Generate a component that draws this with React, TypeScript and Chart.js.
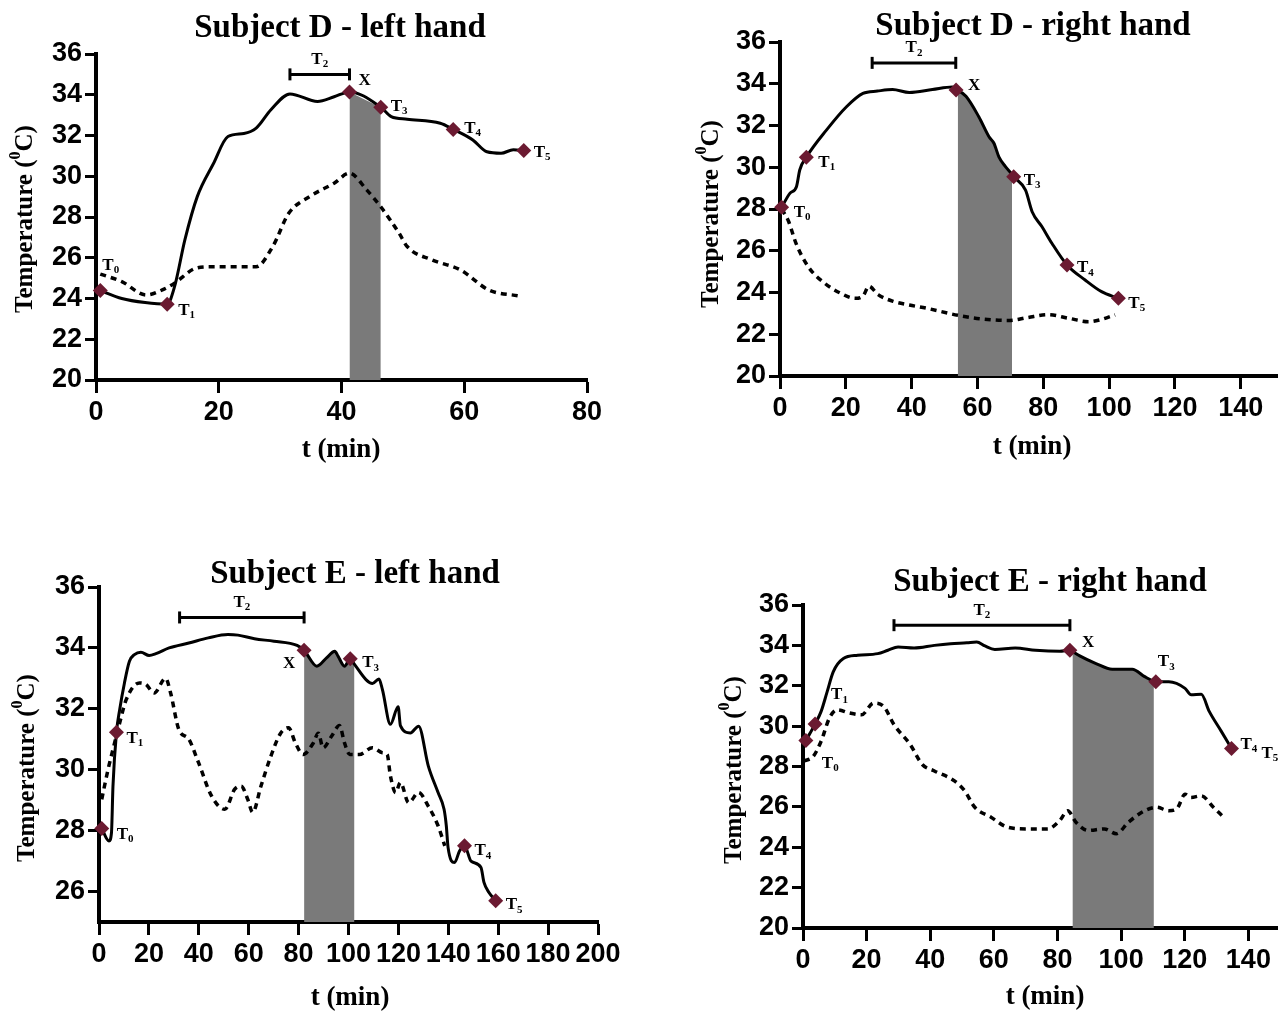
import React, { useEffect, useRef } from 'react';
import { Chart, registerables } from 'chart.js';

Chart.register(...registerables);

const SERIF = '"Liberation Serif", "Times New Roman", serif';
const SANS = '"Liberation Sans", Arial, sans-serif';
const MAROON = '#6b1a31';
const SHADE = '#7a7a7a';
const T2_LEVEL = 35;

// ---------------- tick values ----------------
const X_TICKS_80 = [0, 20, 40, 60, 80];
const X_TICKS_140 = [0, 20, 40, 60, 80, 100, 120, 140];
const X_TICKS_200 = [0, 20, 40, 60, 80, 100, 120, 140, 160, 180, 200];
const Y_TICKS_20_36 = [20, 22, 24, 26, 28, 30, 32, 34, 36];
const Y_TICKS_26_36 = [26, 28, 30, 32, 34, 36];

// ---------------- Subject D - left hand ----------------
const D_LEFT_HAND_T = [0.7, 4.2, 8.0, 11.6, 12.8, 14.5, 16.5, 19.1, 21.5, 24.1, 26.1, 28.5, 31.6, 36.1, 38.8, 41.3, 46.4, 48.1, 50.7, 56.1, 58.2, 61.4, 63.7, 66.0, 68.0, 69.7];
const D_LEFT_HAND_C = [24.39, 24.0, 23.8, 23.72, 24.58, 26.9, 29.0, 30.6, 31.95, 32.1, 32.36, 33.26, 34.04, 33.67, 33.9, 34.14, 33.39, 32.93, 32.8, 32.6, 32.3, 31.78, 31.2, 31.13, 31.3, 31.26];
const D_LEFT_AMB_T = [0.7, 4.2, 8.2, 10.8, 12.8, 16.2, 18.8, 26.1, 28.8, 31.4, 34.8, 38.8, 41.3, 44.1, 46.4, 49.4, 50.7, 54.7, 59.4, 64.0, 69.0];
const D_LEFT_AMB_C = [25.2, 24.83, 24.17, 24.42, 24.75, 25.48, 25.56, 25.56, 26.55, 28.18, 29.0, 29.66, 30.15, 29.33, 28.5, 27.2, 26.55, 25.9, 25.4, 24.42, 24.12];
const D_LEFT_MARK_T = [0.7, 11.6, 41.3, 46.4, 58.2, 69.7];
const D_LEFT_MARK_C = [24.39, 23.72, 34.14, 33.39, 32.3, 31.26];
const D_LEFT_MARK_NAMES = ['T0', 'T1', 'X', 'T3', 'T4', 'T5'];
const D_LEFT_SHADE = [41.3, 46.4];
const D_LEFT_T2 = [31.6, 41.3];

// ---------------- Subject D - right hand ----------------
const D_RIGHT_HAND_T = [0.5, 3.0, 5.0, 6.0, 8.0, 14.1, 20.2, 25.2, 29.6, 34.2, 39.3, 46.3, 52.4, 53.5, 54.0, 56.5, 60.4, 63.5, 65.0, 66.5, 68.5, 70.5, 71.0, 74.6, 76.6, 79.6, 82.6, 87.2, 92.7, 97.7, 102.8];
const D_RIGHT_HAND_C = [28.08, 28.75, 29.07, 29.87, 30.48, 31.78, 32.9, 33.54, 33.65, 33.72, 33.58, 33.72, 33.84, 33.7, 33.68, 33.4, 32.42, 31.46, 31.15, 30.5, 30.03, 29.66, 29.55, 28.9, 27.87, 27.15, 26.36, 25.32, 24.6, 24.04, 23.72];
const D_RIGHT_AMB_T = [0.5, 2.5, 4.9, 8.6, 13.6, 18.5, 22.8, 25.3, 27.0, 29.8, 34.5, 39.3, 44.4, 54.3, 61.7, 69.7, 75.2, 81.4, 87.6, 93.7, 97.4, 101.8];
const D_RIGHT_AMB_C = [28.0, 27.45, 26.34, 25.23, 24.44, 23.96, 23.72, 23.85, 24.3, 23.9, 23.57, 23.4, 23.25, 22.9, 22.73, 22.66, 22.8, 22.94, 22.77, 22.6, 22.7, 22.93];
const D_RIGHT_MARK_T = [0.5, 8.0, 53.5, 71.0, 87.2, 102.8];
const D_RIGHT_MARK_C = [28.08, 30.48, 33.7, 29.55, 25.32, 23.72];
const D_RIGHT_MARK_NAMES = ['T0', 'T1', 'X', 'T3', 'T4', 'T5'];
const D_RIGHT_SHADE = [54.0, 70.5];
const D_RIGHT_T2 = [28.0, 53.4];

// ---------------- Subject E - left hand ----------------
const E_LEFT_HAND_T = [1.1, 4.0, 5.0, 5.6, 7.0, 8.3, 10.2, 12.2, 14.2, 16.8, 20.1, 22.8, 28.1, 36.0, 43.8, 51.7, 55.7, 62.3, 70.1, 79.4, 82.2, 87.3, 91.2, 94.5, 95.8, 98.4, 100.7, 102.4, 107.0, 109.6, 112.2, 113.6, 116.8, 119.9, 120.8, 124.8, 128.1, 132.0, 135.9, 138.3, 139.2, 139.9, 142.5, 144.5, 146.5, 149.1, 153.1, 154.3, 156.3, 159.0];
const E_LEFT_HAND_C = [28.07, 27.66, 27.93, 29.46, 31.23, 31.98, 32.85, 33.56, 33.78, 33.86, 33.75, 33.81, 34.0, 34.16, 34.33, 34.44, 34.42, 34.3, 34.22, 34.08, 33.92, 33.4, 33.67, 33.89, 33.73, 33.4, 33.64, 33.46, 32.96, 32.83, 32.98, 32.63, 31.49, 32.07, 31.45, 31.21, 31.43, 30.12, 29.25, 28.7, 28.16, 27.45, 26.95, 27.33, 27.5, 27.0, 26.79, 26.3, 25.97, 25.7];
const E_LEFT_AMB_T = [1.1, 3.6, 5.6, 8.3, 10.9, 16.2, 18.8, 22.1, 26.7, 28.7, 32.0, 36.0, 39.9, 45.1, 50.4, 54.4, 57.0, 59.6, 61.6, 64.9, 68.9, 72.8, 76.0, 78.7, 81.8, 85.9, 87.9, 89.8, 93.2, 96.4, 98.4, 100.5, 104.3, 109.6, 113.6, 115.5, 116.8, 118.9, 120.8, 124.1, 128.1, 132.0, 135.9, 138.6];
const E_LEFT_AMB_C = [29.03, 30.0, 30.67, 31.54, 32.3, 32.85, 32.8, 32.52, 33.0, 32.52, 31.32, 31.0, 30.23, 29.14, 28.7, 29.36, 29.46, 29.03, 28.6, 29.46, 30.45, 31.2, 31.38, 30.88, 30.5, 30.88, 31.2, 30.72, 31.1, 31.45, 30.88, 30.5, 30.5, 30.72, 30.56, 30.5, 29.8, 29.25, 29.58, 28.92, 29.25, 28.8, 28.16, 27.5];
const E_LEFT_MARK_T = [1.1, 7.0, 82.2, 100.7, 146.5, 159.0];
const E_LEFT_MARK_C = [28.07, 31.23, 33.92, 33.64, 27.5, 25.7];
const E_LEFT_MARK_NAMES = ['T0', 'T1', 'X', 'T3', 'T4', 'T5'];
const E_LEFT_SHADE = [82.2, 102.4];
const E_LEFT_T2 = [32.3, 82.2];

// ---------------- Subject E - right hand ----------------
const E_RIGHT_HAND_T = [0.9, 3.8, 5.7, 7.6, 9.5, 12.7, 17.2, 23.5, 26.7, 29.9, 34.9, 41.3, 46.4, 51.5, 54.6, 57.2, 60.3, 66.7, 73.1, 80.7, 83.9, 84.7, 87.0, 92.1, 97.2, 103.5, 107.4, 110.3, 110.9, 115.0, 120.1, 122.0, 125.2, 127.7, 131.5, 134.7];
const E_RIGHT_HAND_C = [29.29, 30.1, 30.73, 31.71, 32.69, 33.35, 33.51, 33.59, 33.76, 33.92, 33.87, 34.0, 34.08, 34.13, 34.17, 33.97, 33.8, 33.87, 33.76, 33.71, 33.76, 33.7, 33.48, 33.1, 32.82, 32.82, 32.45, 32.22, 32.2, 32.2, 31.87, 31.55, 31.58, 30.73, 29.74, 28.89];
const E_RIGHT_AMB_T = [0.3, 3.2, 5.7, 8.3, 10.8, 14.6, 18.4, 22.2, 25.4, 28.6, 33.7, 37.5, 41.3, 47.6, 50.8, 54.0, 59.1, 64.2, 70.5, 76.9, 80.7, 83.2, 85.8, 89.6, 94.7, 98.5, 102.3, 107.4, 111.2, 115.0, 117.5, 120.1, 122.0, 125.2, 129.0, 132.2];
const E_RIGHT_AMB_C = [28.27, 28.5, 29.25, 30.4, 30.81, 30.65, 30.56, 31.14, 30.97, 30.07, 29.09, 28.1, 27.78, 27.29, 26.8, 25.98, 25.49, 25.0, 24.91, 24.91, 25.32, 25.81, 25.24, 24.83, 24.91, 24.67, 25.24, 25.81, 25.98, 25.81, 25.9, 26.63, 26.47, 26.55, 25.98, 25.49];
const E_RIGHT_MARK_T = [0.9, 3.8, 83.9, 110.9, 134.7];
const E_RIGHT_MARK_C = [29.29, 30.1, 33.76, 32.2, 28.89];
const E_RIGHT_MARK_NAMES = ['T0', 'T1', 'X', 'T3', 'T4'];
const E_RIGHT_SHADE = [84.7, 110.3];
const E_RIGHT_T2 = [28.6, 83.9];

const Y_TITLE = 'Temperature';
const X_TITLE = 't (min)';

type Lbl = { text: string; i: number; dx: number; dy: number };
type Panel = {
  title: string;
  box: { x: number; y: number; w: number; h: number };
  area: { l: number; t: number; r: number; b: number };
  xMax: number; yMin: number; yMax: number;
  xTicks: number[]; yTicks: number[];
  handT: number[]; handC: number[]; ambT: number[]; ambC: number[];
  markT: number[]; markC: number[]; names: string[];
  shade: number[]; t2: number[];
  labels: Lbl[];
  titlePos: number[]; xTitlePos: number[]; yTitlePos: number[];
};

const offs = (names: string[], o: number[][]): Lbl[] => names.map((n, i) => ({ text: n, i, dx: o[i][0], dy: o[i][1] }));

const PANELS: Panel[] = [
  {
    title: 'Subject D - left hand',
    box: { x: 0, y: 0, w: 640, h: 470 }, area: { l: 96, t: 54, r: 587, b: 380 },
    xMax: 80, yMin: 20, yMax: 36, xTicks: X_TICKS_80, yTicks: Y_TICKS_20_36,
    handT: D_LEFT_HAND_T, handC: D_LEFT_HAND_C, ambT: D_LEFT_AMB_T, ambC: D_LEFT_AMB_C,
    markT: D_LEFT_MARK_T, markC: D_LEFT_MARK_C, names: D_LEFT_MARK_NAMES,
    shade: D_LEFT_SHADE, t2: D_LEFT_T2,
    labels: offs(D_LEFT_MARK_NAMES, [[2, -25], [11, 6], [9, -11], [10, -1], [11, -1], [10, 2]]),
    titlePos: [340, 28], xTitlePos: [341, 450], yTitlePos: [26, 219],
  },
  {
    title: 'Subject D - right hand',
    box: { x: 640, y: 0, w: 646, h: 470 }, area: { l: 780, t: 42, r: 1280, b: 376 },
    xMax: 151, yMin: 20, yMax: 36, xTicks: X_TICKS_140, yTicks: Y_TICKS_20_36,
    handT: D_RIGHT_HAND_T, handC: D_RIGHT_HAND_C, ambT: D_RIGHT_AMB_T, ambC: D_RIGHT_AMB_C,
    markT: D_RIGHT_MARK_T, markC: D_RIGHT_MARK_C, names: D_RIGHT_MARK_NAMES,
    shade: D_RIGHT_SHADE, t2: D_RIGHT_T2,
    labels: offs(D_RIGHT_MARK_NAMES, [[12, 5], [12, 5], [12, -4], [10, 4], [10, 3], [10, 5]]),
    titlePos: [393, 26], xTitlePos: [392, 447], yTitlePos: [72, 214],
  },
  {
    title: 'Subject E - left hand',
    box: { x: 0, y: 530, w: 640, h: 483 }, area: { l: 99, t: 587, r: 598, b: 922 },
    xMax: 200, yMin: 25, yMax: 36, xTicks: X_TICKS_200, yTicks: Y_TICKS_26_36,
    handT: E_LEFT_HAND_T, handC: E_LEFT_HAND_C, ambT: E_LEFT_AMB_T, ambC: E_LEFT_AMB_C,
    markT: E_LEFT_MARK_T, markC: E_LEFT_MARK_C, names: E_LEFT_MARK_NAMES,
    shade: E_LEFT_SHADE, t2: E_LEFT_T2,
    labels: offs(E_LEFT_MARK_NAMES, [[15, 6], [10, 6], [-21, 13], [12, 4], [10, 5], [10, 4]]),
    titlePos: [355, 44], xTitlePos: [350, 468], yTitlePos: [28, 238],
  },
  {
    title: 'Subject E - right hand',
    box: { x: 640, y: 530, w: 646, h: 483 }, area: { l: 803, t: 605, r: 1286, b: 928 },
    xMax: 149, yMin: 20, yMax: 36, xTicks: X_TICKS_140, yTicks: Y_TICKS_20_36,
    handT: E_RIGHT_HAND_T, handC: E_RIGHT_HAND_C, ambT: E_RIGHT_AMB_T, ambC: E_RIGHT_AMB_C,
    markT: E_RIGHT_MARK_T, markC: E_RIGHT_MARK_C, names: E_RIGHT_MARK_NAMES,
    shade: E_RIGHT_SHADE, t2: E_RIGHT_T2,
    labels: [
      ...offs(E_RIGHT_MARK_NAMES, [[16, 23], [16, -29], [12, -8], [2, -20], [9, -4]]),
      { text: 'T5', i: 4, dx: 30, dy: 5 },
    ],
    titlePos: [410, 52], xTitlePos: [405, 467], yTitlePos: [95, 240],
  },
];

const pts = (xs: number[], ys: number[]) => xs.map((x, i) => ({ x, y: ys[i] }));

function drawSubText(ctx: CanvasRenderingContext2D, text: string, x: number, y: number) {
  ctx.textBaseline = 'middle';
  ctx.textAlign = 'left';
  ctx.fillStyle = '#000';
  ctx.font = `bold 17px ${SERIF}`;
  const main = text[0];
  ctx.fillText(main, x, y);
  const sub = text.slice(1);
  if (sub) {
    const w = ctx.measureText(main).width;
    ctx.font = `bold 11px ${SERIF}`;
    ctx.fillText(sub, x + w, y + 5);
  }
}

function subTextWidth(ctx: CanvasRenderingContext2D, text: string) {
  ctx.font = `bold 17px ${SERIF}`;
  let w = ctx.measureText(text[0]).width;
  if (text.length > 1) {
    ctx.font = `bold 11px ${SERIF}`;
    w += ctx.measureText(text.slice(1)).width;
  }
  return w;
}

function makeTextPlugin(p: Panel) {
  return {
    id: 'panelText',
    afterDatasetsDraw(chart: any) {
      const ctx: CanvasRenderingContext2D = chart.ctx;
      const xs = chart.scales.x;
      const ys = chart.scales.y;
      ctx.save();
      p.labels.forEach((l) => {
        const px = xs.getPixelForValue(p.markT[l.i]);
        const py = ys.getPixelForValue(p.markC[l.i]);
        drawSubText(ctx, l.text, px + l.dx, py + l.dy);
      });
      const cx = xs.getPixelForValue((p.t2[0] + p.t2[1]) / 2);
      const cy = ys.getPixelForValue(T2_LEVEL);
      const w = subTextWidth(ctx, 'T2');
      drawSubText(ctx, 'T2', cx - w / 2, cy - 15);
      ctx.restore();
    },
    afterDraw(chart: any) {
      const ctx: CanvasRenderingContext2D = chart.ctx;
      ctx.save();
      ctx.fillStyle = '#000';
      ctx.textAlign = 'center';
      ctx.textBaseline = 'middle';
      ctx.font = `bold 33px ${SERIF}`;
      ctx.fillText(p.title, p.titlePos[0], p.titlePos[1]);
      ctx.font = `bold 27px ${SERIF}`;
      ctx.fillText(X_TITLE, p.xTitlePos[0], p.xTitlePos[1]);
      // rotated y title with superscript 0
      ctx.translate(p.yTitlePos[0], p.yTitlePos[1]);
      ctx.rotate(-Math.PI / 2);
      ctx.textAlign = 'left';
      const big = `bold 25px ${SERIF}`;
      const small = `bold 16px ${SERIF}`;
      const a = Y_TITLE + ' (';
      const c = 'C)';
      ctx.font = big;
      const wa = ctx.measureText(a).width;
      const wc = ctx.measureText(c).width;
      ctx.font = small;
      const wb = ctx.measureText('0').width;
      const x0 = -(wa + wb + wc) / 2;
      ctx.font = big;
      ctx.fillText(a, x0, 0);
      ctx.font = small;
      ctx.fillText('0', x0 + wa, -10);
      ctx.font = big;
      ctx.fillText(c, x0 + wa + wb, 0);
      ctx.restore();
    },
  };
}

const tickFont = { family: SANS, size: 27, weight: 'bold' as const };

function buildConfig(p: Panel): any {
  const hand = pts(p.handT, p.handC);
  const shade = hand.filter((d) => d.x >= p.shade[0] - 1e-9 && d.x <= p.shade[1] + 1e-9);
  const yAxisW = p.area.l - p.box.x;
  const xAxisH = p.box.y + p.box.h - p.area.b;
  const gridOpts = (len: number) => ({
    display: true,
    drawOnChartArea: false,
    drawTicks: true,
    tickLength: len,
    tickWidth: 3,
    tickColor: '#000',
  });
  const border = { display: true, color: '#000', width: 4 };
  return {
    type: 'line',
    data: {
      datasets: [
        {
          label: 'shade',
          data: shade,
          fill: 'start',
          backgroundColor: SHADE,
          borderWidth: 0,
          borderColor: 'rgba(0,0,0,0)',
          pointRadius: 0,
          cubicInterpolationMode: 'monotone',
          order: 10,
        },
        {
          label: 'ambient',
          data: pts(p.ambT, p.ambC),
          borderColor: '#000',
          borderWidth: 3.5,
          borderDash: [6, 5],
          pointRadius: 0,
          fill: false,
          cubicInterpolationMode: 'monotone',
          order: 3,
        },
        {
          label: 'hand',
          data: hand,
          borderColor: '#000',
          borderWidth: 3,
          pointRadius: 0,
          fill: false,
          cubicInterpolationMode: 'monotone',
          order: 2,
        },
        {
          label: 'T2',
          data: [{ x: p.t2[0], y: T2_LEVEL }, { x: p.t2[1], y: T2_LEVEL }],
          borderColor: '#000',
          borderWidth: 3,
          pointStyle: 'line',
          pointRotation: 90,
          pointRadius: 6,
          pointBorderWidth: 3,
          pointBorderColor: '#000',
          fill: false,
          clip: false,
          order: 1,
        },
        {
          label: 'markers',
          data: pts(p.markT, p.markC),
          showLine: false,
          pointStyle: 'rectRot',
          pointRadius: 7.5,
          pointBackgroundColor: MAROON,
          pointBorderColor: MAROON,
          pointBorderWidth: 0,
          clip: false,
          order: 0,
        },
      ],
    },
    options: {
      responsive: false,
      animation: false,
      events: [],
      layout: {
        padding: { left: 0, top: p.area.t - p.box.y, right: p.box.x + p.box.w - p.area.r, bottom: 0 },
      },
      plugins: { legend: { display: false }, tooltip: { enabled: false }, title: { display: false } },
      scales: {
        x: {
          type: 'linear',
          min: 0,
          max: p.xMax,
          afterBuildTicks: (s: any) => {
            s.ticks = p.xTicks.map((v) => ({ value: v }));
          },
          afterFit: (s: any) => {
            s.height = xAxisH;
          },
          ticks: { stepSize: 20, color: '#000', font: tickFont, padding: 3, maxRotation: 0, autoSkip: false },
          grid: gridOpts(13),
          border,
        },
        y: {
          type: 'linear',
          min: p.yMin,
          max: p.yMax,
          afterBuildTicks: (s: any) => {
            s.ticks = p.yTicks.map((v) => ({ value: v }));
          },
          afterFit: (s: any) => {
            s.width = yAxisW;
          },
          ticks: { stepSize: 2, color: '#000', font: tickFont, padding: 3, autoSkip: false },
          grid: gridOpts(11),
          border,
        },
      },
    },
    plugins: [makeTextPlugin(p)],
  };
}

function PanelChart({ p }: { p: Panel }) {
  const ref = useRef<HTMLCanvasElement>(null);
  useEffect(() => {
    const chart = new Chart(ref.current as HTMLCanvasElement, buildConfig(p));
    return () => chart.destroy();
  }, [p]);
  return (
    <canvas
      ref={ref}
      width={p.box.w}
      height={p.box.h}
      style={{ position: 'absolute', left: p.box.x, top: p.box.y, width: p.box.w, height: p.box.h }}
    />
  );
}

export default function App() {
  return (
    <div
      style={{
        position: 'absolute',
        left: 0,
        top: 0,
        width: 1286,
        height: 1013,
        background: '#fff',
        overflow: 'hidden',
      }}
    >
      {PANELS.map((p) => (
        <PanelChart key={p.title} p={p} />
      ))}
    </div>
  );
}
